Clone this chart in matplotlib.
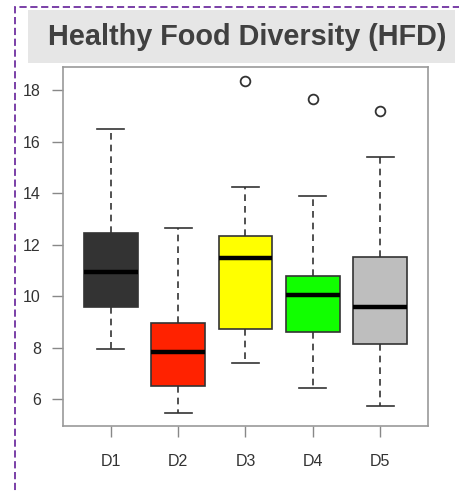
import matplotlib
matplotlib.use("Agg")
import matplotlib.pyplot as plt
from matplotlib.patches import Rectangle

plt.rcParams['font.family'] = ['Liberation Sans', 'DejaVu Sans']

# -------------------------------
# Data
# -------------------------------
groups = ["D1", "D2", "D3", "D4", "D5"]
whisker_low = [7.94, 5.44, 7.41, 6.44, 5.74]
q1 = [9.56, 6.52, 8.70, 8.59, 8.12]
medians = [10.94, 7.84, 11.46, 10.03, 9.56]
q3 = [12.46, 8.96, 12.34, 10.79, 11.50]
whisker_high = [16.51, 12.65, 14.23, 13.90, 15.41]
outliers = [[], [], [18.34], [17.65], [17.20]]
colors = ["#333333", "#ff2200", "#ffff00", "#11ff00", "#bebebe"]

stats = []
for i, g in enumerate(groups):
    stats.append({
        "label": g,
        "whislo": whisker_low[i],
        "q1": q1[i],
        "med": medians[i],
        "q3": q3[i],
        "whishi": whisker_high[i],
        "fliers": outliers[i],
    })

# -------------------------------
# Figure
# -------------------------------
W, H = 460, 491
fig = plt.figure(figsize=(W / 100, H / 100), dpi=100)

# dashed purple frame (runs off the right and bottom edges)
fig.patches.append(Rectangle((15 / W, -0.1), 1.2, 1.1 - 7 / H,
                             transform=fig.transFigure, fill=False,
                             edgecolor="#7030a0", linestyle=(0, (4, 2)),
                             linewidth=1.3))
# grey title banner
fig.patches.append(Rectangle((28 / W, 1 - 63 / H), (455 - 28) / W, 53 / H,
                             transform=fig.transFigure, facecolor="#e6e6e6",
                             edgecolor="none"))
fig.text(247 / W, 1 - 37 / H, "Healthy Food Diversity (HFD)", ha="center",
         va="center", fontsize=20.8, fontweight="bold", color="#404040")

ax = fig.add_axes([63 / W, 1 - 426 / H, (428 - 63) / W, (426 - 67) / H])

bp = ax.bxp(stats, positions=range(1, 6), widths=0.8, patch_artist=True,
            showfliers=True,
            boxprops=dict(edgecolor="#333333", linewidth=1.2),
            medianprops=dict(color="black", linewidth=3.2, solid_capstyle="butt"),
            whiskerprops=dict(color="#333333", linestyle=(0, (4, 3)), linewidth=1.2),
            capprops=dict(color="#333333", linewidth=1.2),
            flierprops=dict(marker="o", markerfacecolor="none",
                            markeredgecolor="#333333", markersize=7,
                            markeredgewidth=1.3))
for patch, c in zip(bp["boxes"], colors):
    patch.set_facecolor(c)
for cap in bp["caps"]:
    x0, x1 = cap.get_xdata()
    mid = (x0 + x1) / 2
    cap.set_xdata([mid - 0.2, mid + 0.2])

ax.set_xlim(0.29, 5.71)
ax.set_ylim(4.95, 18.9)
ax.set_yticks([6, 8, 10, 12, 14, 16, 18])
ax.set_xticks(range(1, 6))
ax.set_xticklabels(groups)

for s in ax.spines.values():
    s.set_color("#999999")
    s.set_linewidth(1.2)
ax.tick_params(axis="both", colors="#888888", length=8, width=1.0,
               labelcolor="#333333", labelsize=11.5)
ax.tick_params(axis="y", pad=8)
ax.tick_params(axis="x", pad=12)

fig.savefig("out.png", dpi=100)
